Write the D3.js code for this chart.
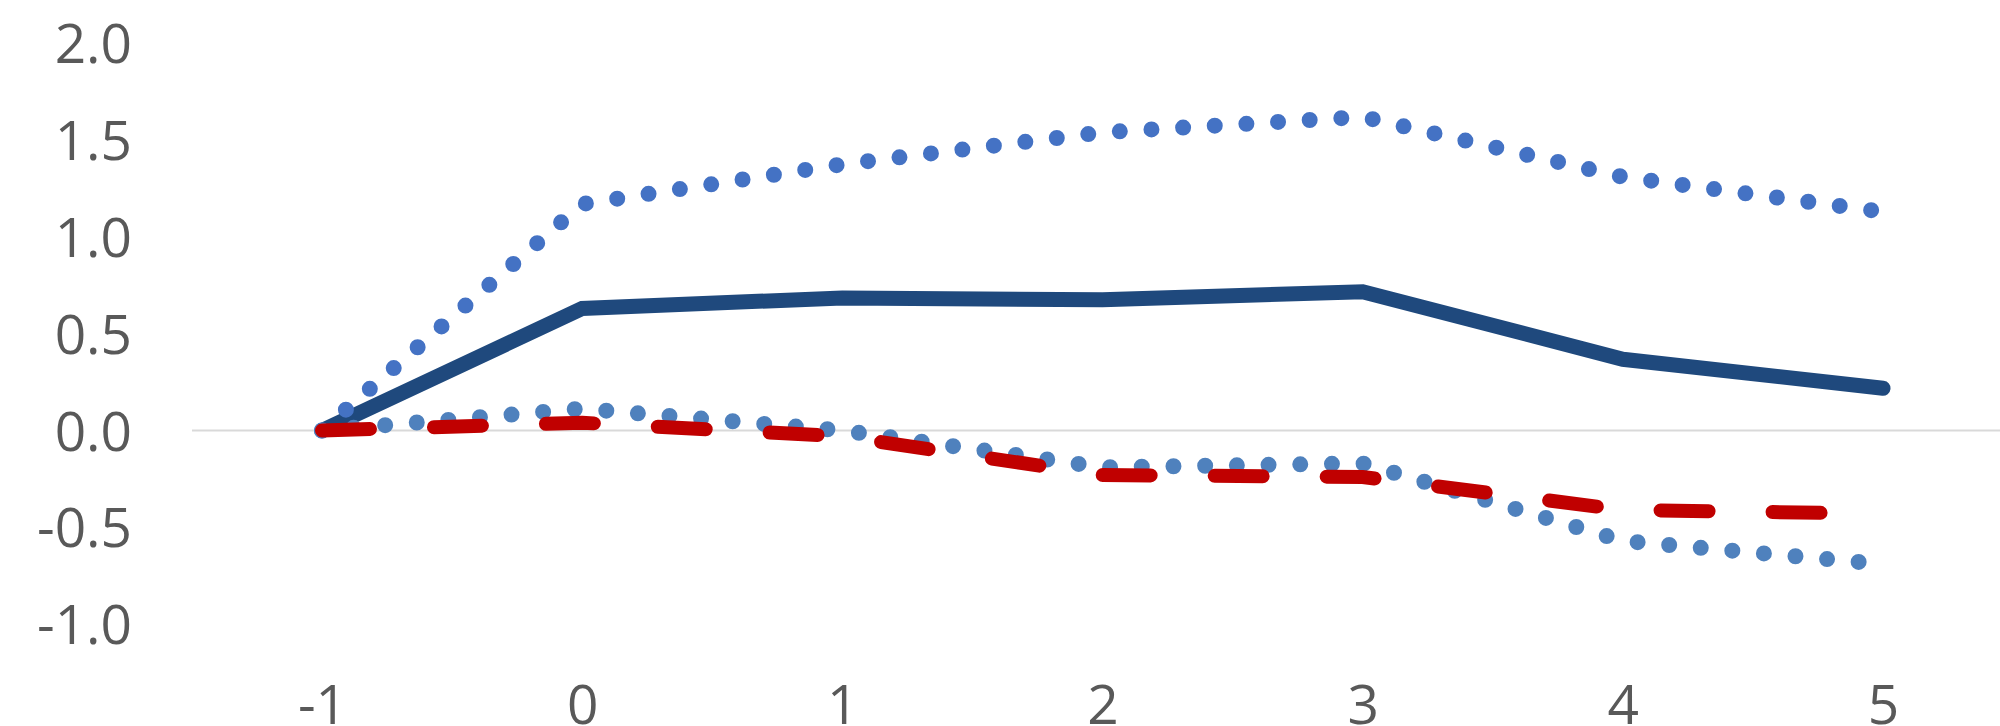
<!DOCTYPE html>
<html>
<head>
<meta charset="utf-8">
<script src="https://cdn.jsdelivr.net/npm/d3@7"></script>
<style>
  html, body { margin: 0; padding: 0; background: #ffffff; overflow: hidden; }
  svg { display: block; }
</style>
</head>
<body>
<script>
// ---- data ----
const periods = [-1, 0, 1, 2, 3, 4, 5];
const xTickLabels = ["-1", "0", "1", "2", "3", "4", "5"];
const estimate   = [0, 0.63, 0.685, 0.675, 0.717, 0.368, 0.218];
const upperBand  = [0, 1.17, 1.375, 1.54, 1.62, 1.31, 1.13];
const lowerBand  = [0, 0.113, 0.0, -0.19, -0.17, -0.57, -0.69];
const comparison = [0, 0.04, -0.03, -0.23, -0.24, -0.41, -0.43];
const yTicks = [-1.0, -0.5, 0.0, 0.5, 1.0, 1.5, 2.0];
const yTickLabels = ["-1.0", "-0.5", "0.0", "0.5", "1.0", "1.5", "2.0"];

const W = 2000, H = 726;
const svg = d3.select("body").append("svg").attr("width", W).attr("height", H);

const x = d3.scaleLinear().domain([-1, 5]).range([322, 1883]);
const y = d3.scaleLinear().domain([-1, 2]).range([624.1, 43.3]);

const font = "'Open Sans', sans-serif";
const textColor = "#595959";

// zero axis line
svg.append("line")
  .attr("x1", 192).attr("x2", W)
  .attr("y1", y(0)).attr("y2", y(0))
  .attr("stroke", "#d9d9d9").attr("stroke-width", 2);

// y axis labels
const yAxis = d3.axisLeft(y).tickValues(yTicks)
  .tickFormat((d, i) => yTickLabels[i]).tickSize(0).tickPadding(0);
const gy = svg.append("g").attr("transform", "translate(132,0)").call(yAxis);
gy.select(".domain").remove();
gy.selectAll("text")
  .attr("font-family", font).attr("font-size", 55)
  .attr("fill", textColor).attr("dy", "0.357em");

// x axis labels
const xAxis = d3.axisBottom(x).tickValues(periods)
  .tickFormat((d, i) => xTickLabels[i]).tickSize(0).tickPadding(0);
const gx = svg.append("g").attr("transform", "translate(0,685)").call(xAxis);
gx.select(".domain").remove();
gx.selectAll("text")
  .attr("font-family", font).attr("font-size", 55)
  .attr("fill", textColor).attr("y", 0).attr("dy", "0.714em");

const line = d3.line().x((d, i) => x(periods[i])).y(d => y(d));

// solid estimate
svg.append("path").datum(estimate)
  .attr("d", line).attr("fill", "none")
  .attr("stroke", "#1f497d").attr("stroke-width", 15)
  .attr("stroke-linecap", "round").attr("stroke-linejoin", "miter");

// upper band dotted
svg.append("path").datum(upperBand)
  .attr("d", line).attr("fill", "none")
  .attr("stroke", "#4472c4").attr("stroke-width", 16)
  .attr("stroke-linecap", "round").attr("stroke-dasharray", "0 31.7");

// lower band dotted
svg.append("path").datum(lowerBand)
  .attr("d", line).attr("fill", "none")
  .attr("stroke", "#4f81bd").attr("stroke-width", 16)
  .attr("stroke-linecap", "round").attr("stroke-dasharray", "0 31.7");

// comparison dashed
svg.append("path").datum(comparison)
  .attr("d", line).attr("fill", "none")
  .attr("stroke", "#c00000").attr("stroke-width", 14)
  .attr("stroke-linecap", "round").attr("stroke-dasharray", "48 64");
</script>
</body>
</html>
